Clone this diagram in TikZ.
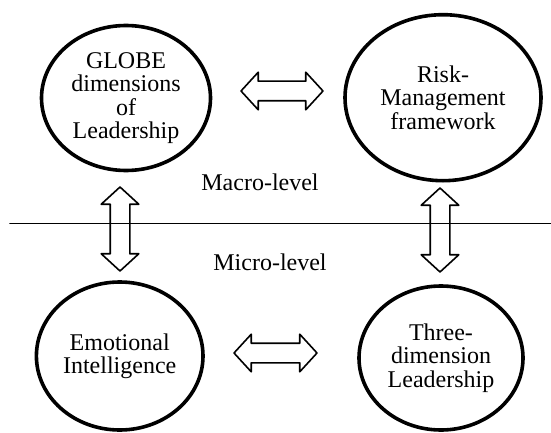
\documentclass[tikz,border=0pt]{standalone}
\usepackage{fontspec}
\setmainfont{Liberation Serif}
\usetikzlibrary{shapes.geometric,shapes.arrows}
\begin{document}
\begin{tikzpicture}[x=1pt,y=1pt,line join=round,line cap=round,
	font=\fontsize{24}{23.3}\selectfont,
	bubble/.style={ellipse,draw,line width=3.6pt,inner sep=0pt,align=center},
	twoway/.style={double arrow,draw,line width=1.6pt,inner sep=9pt,
		double arrow head extend=9pt,double arrow tip angle=95,minimum height=#1}]
	\useasboundingbox (0,0) rectangle (551,432);
	\path
	(126,334) coordinate (G)
	(443,334.3) coordinate (R)
	(119.7,76) coordinate (E)
	(441,74) coordinate (T)
	(10,208.7) coordinate (L)
	(551,208.7) coordinate (K)
	;
	\node[bubble,minimum width=169pt,minimum height=145pt] (globe) at (G) {GLOBE\\dimensions\\of\\Leadership};
	\node[bubble,minimum width=196pt,minimum height=166pt] (risk) at (R) {Risk-\\Management\\framework};
	\node[bubble,minimum width=166.6pt,minimum height=148pt] (emotional) at (E) {Emotional\\Intelligence};
	\node[bubble,minimum width=164pt,minimum height=144pt] (three) at (T) {Three-\\dimension\\Leadership};
	% hollow two-way arrows
	\node[twoway=82pt] (topArrow) at (282,341) {};
	\node[twoway=83pt] (bottomArrow) at (275.5,79) {};
	\foreach \n/\x/\y in {leftArrow/120/203,rightArrow/440/202}
	\node[twoway=84pt,rotate=90] (\n) at (\x,\y) {};
	% level divider
	\draw[line width=1.6pt] (L)--(K);
	\node[anchor=base] (macro) at (260,241.3) {Macro-level};
	\node[anchor=base] (micro) at (270,162) {Micro-level};
\end{tikzpicture}
\end{document}
